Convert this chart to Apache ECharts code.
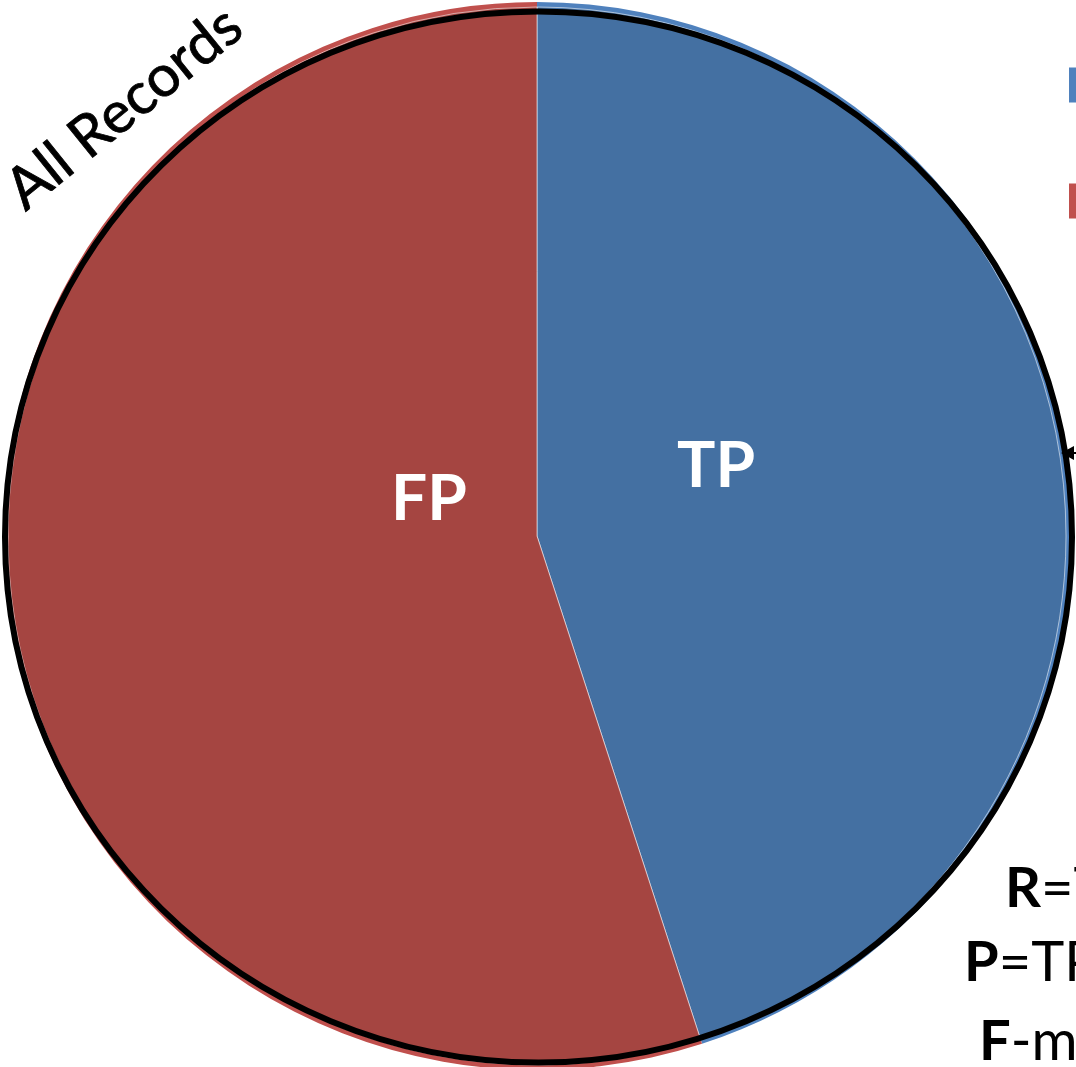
<!DOCTYPE html>
<html>
<head>
<meta charset="utf-8">
<title>All Records</title>
<script src="https://cdn.jsdelivr.net/npm/echarts@6/dist/echarts.min.js"></script>
<style>
  html, body { margin: 0; padding: 0; background: #fff; }
  #chart { width: 1076px; height: 1067px; }
</style>
</head>
<body>
<div id="chart"></div>
<script>
// Share of retrieved records, split into true and false positives
const categories = ['TP', 'FP'];
const shares = [45, 55];
const rimColors = ['#4F81BD', '#C0504D'];
const fillColors = ['#4470A2', '#A54541'];
const outerTitle = 'All Records';
const formulas = [
  ['R', '=TP/(TP+FN)'],
  ['P', '=TP/(TP+FP)'],
  ['F', '-measure']
];

const FONT = 'Lato, "Open Sans", "DejaVu Sans", sans-serif';
const PIE_CX = 537, PIE_CY = 536, PIE_R = 534;

// hand-placed slice label anchors (pixels)
const labelAnchor = { TP: [716, 466], FP: [429, 499] };

const chart = echarts.init(document.getElementById('chart'), null, { renderer: 'canvas' });

const rimData = categories.map((c, i) => ({
  name: c, value: shares[i], itemStyle: { color: rimColors[i] }
}));
const fillData = categories.map((c, i) => ({
  name: c, value: shares[i], itemStyle: { color: fillColors[i] }
}));

const formulaTexts = formulas.map((f, i) => ({
  type: 'text',
  x: [1005, 964, 979][i],
  y: [889, 963, 1042][i],
  style: {
    text: '{b|' + f[0] + '}{n|' + f[1] + '}',
    textVerticalAlign: 'middle',
    textAlign: 'left',
    rich: {
      b: { fontFamily: FONT, fontSize: 56, fontWeight: 'bold', fill: '#000' },
      n: { fontFamily: FONT, fontSize: 56, fontWeight: 'normal', fill: '#000' }
    }
  },
  z: 10
}));

chart.setOption({
  animation: false,
  backgroundColor: '#ffffff',
  legend: {
    data: categories,
    orient: 'vertical',
    left: 1064,
    top: 60,
    itemWidth: 35,
    itemHeight: 35,
    itemGap: 76,
    icon: 'rect',
    itemStyle: { borderWidth: 0 },
    textStyle: { fontFamily: FONT, fontSize: 40, color: '#000' },
    selectedMode: false
  },
  series: [
    {
      // lighter outer rim of each slice
      type: 'pie',
      center: [PIE_CX, PIE_CY],
      radius: PIE_R,
      startAngle: 90,
      clockwise: true,
      silent: true,
      label: { show: false },
      labelLine: { show: false },
      emphasis: { disabled: true },
      data: rimData
    },
    {
      // slice bodies
      type: 'pie',
      center: [PIE_CX, PIE_CY],
      radius: PIE_R - 5,
      startAngle: 90,
      clockwise: true,
      silent: true,
      itemStyle: { borderColor: 'rgba(255,255,255,0.55)', borderWidth: 1 },
      label: {
        show: true,
        position: 'inside',
        formatter: '{b}',
        color: '#ffffff',
        fontFamily: FONT,
        fontSize: 64,
        fontWeight: 'bold'
      },
      labelLayout: function (p) {
        const a = labelAnchor[categories[p.dataIndex]];
        return { x: a[0], y: a[1], align: 'center', verticalAlign: 'middle' };
      },
      labelLine: { show: false },
      emphasis: { disabled: true },
      data: fillData
    }
  ],
  graphic: [
    {
      // outline around the whole record set
      type: 'ellipse',
      shape: { cx: 538.5, cy: 537, rx: 533.5, ry: 525.5 },
      style: { fill: null, stroke: '#000', lineWidth: 6 },
      z: 5
    },
    {
      type: 'polygon',
      shape: { points: [[1061, 453], [1074, 446], [1074, 460]] },
      style: { fill: '#000' },
      z: 6
    },
    {
      type: 'line',
      shape: { x1: 1070, y1: 453, x2: 1076, y2: 453 },
      style: { stroke: '#000', lineWidth: 2 },
      z: 6
    },
    {
      type: 'text',
      x: 124,
      y: 108,
      rotation: 39 * Math.PI / 180,
      style: {
        text: outerTitle,
        fontFamily: FONT,
        fontSize: 58,
        fill: '#000',
        stroke: '#000',
        lineWidth: 0.8,
        textAlign: 'center',
        textVerticalAlign: 'middle'
      },
      z: 10
    }
  ].concat(formulaTexts)
});
</script>
</body>
</html>
